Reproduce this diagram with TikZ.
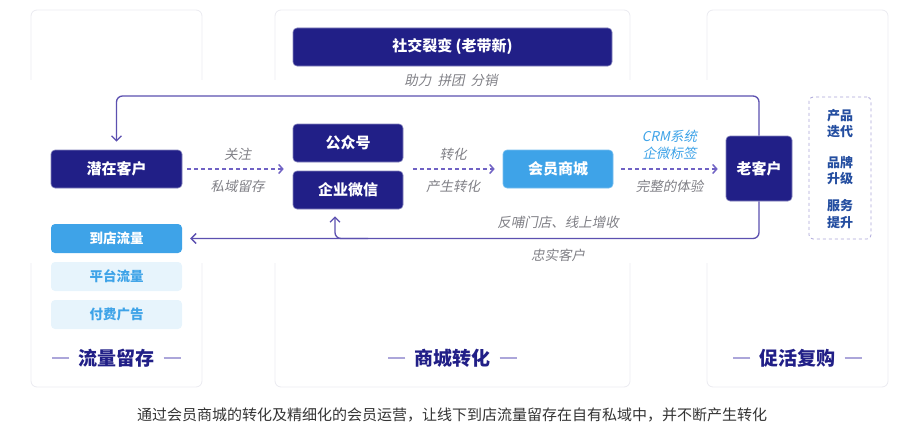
\documentclass[tikz,border=0pt]{standalone}
\usepackage{fontspec}
\setmainfont{Noto Sans CJK SC}[AutoFakeSlant=0.2]
\usetikzlibrary{arrows.meta,positioning}
\definecolor{navy}{RGB}{33,31,135}
\definecolor{skyblue}{RGB}{62,163,232}
\definecolor{paleblue}{RGB}{231,244,252}
\definecolor{loopcol}{RGB}{92,80,176}
\definecolor{flowcol}{RGB}{112,98,196}
\definecolor{labelgray}{RGB}{128,128,134}
\definecolor{panelline}{RGB}{234,234,240}
\definecolor{tipblue}{RGB}{36,78,160}
\definecolor{dashcol}{RGB}{172,166,218}
\begin{document}
\begin{tikzpicture}[x=1pt,y=-1pt,
    box/.style={rounded corners=4pt,minimum height=38pt,inner sep=0pt,font=\fontsize{15}{15}\selectfont\bfseries},
    darkbox/.style={box,fill=navy,draw=navy!55!white,line width=0.6pt,text=white},
    lightbox/.style={box,fill=skyblue,draw=skyblue!70!white,line width=0.6pt,text=white},
    srcbox/.style={rounded corners=4pt,minimum width=131pt,minimum height=29pt,inner sep=0pt,font=\fontsize{13.5}{13.5}\selectfont\bfseries},
    graylabel/.style={inner sep=0pt,text=labelgray,font=\fontsize{13.5}{13.5}\selectfont\itshape},
    bluelabel/.style={inner sep=0pt,text=skyblue,font=\fontsize{13.5}{17}\selectfont\itshape,align=center},
    flow/.style={draw=flowcol,line width=1.5pt,dash pattern=on 4pt off 3pt,-{Straight Barb[length=4pt,width=9pt]}},
    loopline/.style={draw=loopcol,line width=1.3pt,rounded corners=6pt,-{Straight Barb[length=5pt,width=10pt]}},
    paneltitle/.style={inner sep=0pt,text=navy,font=\fontsize{19}{19}\selectfont\bfseries},
    tiptext/.style={inner sep=0pt,text=tipblue,align=center,font=\fontsize{13}{16.5}\selectfont\bfseries}
]
\useasboundingbox (0,0) rectangle (901,444);
% panels, with the band behind the loop left blank
\foreach \x/\w in {31/171, 275/355, 707/181}
    \draw[panelline,line width=0.8pt,rounded corners=6pt] (\x,10) rectangle ++(\w,377);
\fill[white] (20,80) rectangle (878,263);
\foreach \cx/\name/\t in {116.5/retain/流量留存, 452.5/convert/商城转化, 797.5/repurchase/促活复购}{
    \node[paneltitle] (\name) at (\cx,358) {\t};
    \draw[dashcol,line width=1.5pt] ([xshift=-9pt]\name.west) -- ++(-17,0);
    \draw[dashcol,line width=1.5pt] ([xshift=9pt]\name.east) -- ++(17,0);
}

% top
\node[darkbox,minimum width=319pt] (fission) at (452.5,47) {社交裂变 (老带新)};
\node[graylabel] (fissionsub) at (451,80) {助力\ \ 拼团\ \ 分销};
\coordinate (looptop) at (0,96);

% main row
\node[darkbox,minimum width=131pt] (potential) at (116.5,169) {潜在客户};
\node[darkbox,minimum width=110pt] (official) at (348,143) {公众号};
\node[darkbox,minimum width=110pt] (wecom) at (348,190) {企业微信};
\node[lightbox,minimum width=110pt] (mall) at (558,169) {会员商城};
\node[darkbox,minimum width=66pt,minimum height=65pt] (oldcust) at (759,168.5) {老客户};

\draw[flow,shorten <=5pt,shorten >=9pt] (potential.east) -- (potential.east -| wecom.west)
    node[graylabel,midway,yshift=15pt] (follow) {关注}
    node[graylabel,midway,yshift=-17pt] (keep) {私域留存};
\draw[flow,shorten <=10pt,shorten >=8pt] (mall.west -| wecom.east) -- (mall.west)
    node[graylabel,midway,yshift=15pt] (turn) {转化}
    node[graylabel,midway,yshift=-17pt] (produce) {产生转化};
\draw[flow,shorten <=8pt,shorten >=8pt] (mall.east) -- (mall.east -| oldcust.west)
    node[bluelabel,midway,yshift=24pt] (crm) {CRM系统\\企微标签}
    node[graylabel,midway,yshift=-17pt] (experience) {完整的体验};

% traffic sources
\node[srcbox,fill=skyblue,text=white] (store) at (116.5,238.5) {到店流量};
\foreach \name/\t/\y in {platform/平台流量/276.5, ads/付费广告/314.5}
    \node[srcbox,fill=paleblue,text=skyblue] (\name) at (116.5,\y) {\t};

% loops
\draw[loopline,shorten >=8pt] (oldcust.north) -- (oldcust.north |- looptop) -| (potential.north);
\draw[loopline,shorten >=8pt] (oldcust.south) |- (store.east);
\draw[loopline,shorten >=7pt] ([xshift=20pt]wecom.south |- store.east) -| ([xshift=-13pt]wecom.south);
\node[graylabel] (feedback) at ([yshift=16pt]mall.center |- store.east) {反哺门店、线上增收};
\node[graylabel] (loyal) at ([yshift=-17pt]mall.center |- store.east) {忠实客户};

% repurchase drivers
\node[draw=dashcol,dashed,line width=0.8pt,rounded corners=4pt,minimum width=62pt,minimum height=142pt] (tips) at (840,168) {};
\foreach \name/\t/\y in {product/产品\\迭代/123.5, brand/品牌\\升级/170.5, service/服务\\提升/214}
    \node[tiptext] (\name) at (840,\y) {\t};

\node[inner sep=0pt,text=black!80,font=\fontsize{15}{15}\selectfont] (summary) at (452,415)
    {通过会员商城的转化及精细化的会员运营，让线下到店流量留存在自有私域中，并不断产生转化};
\end{tikzpicture}
\end{document}
